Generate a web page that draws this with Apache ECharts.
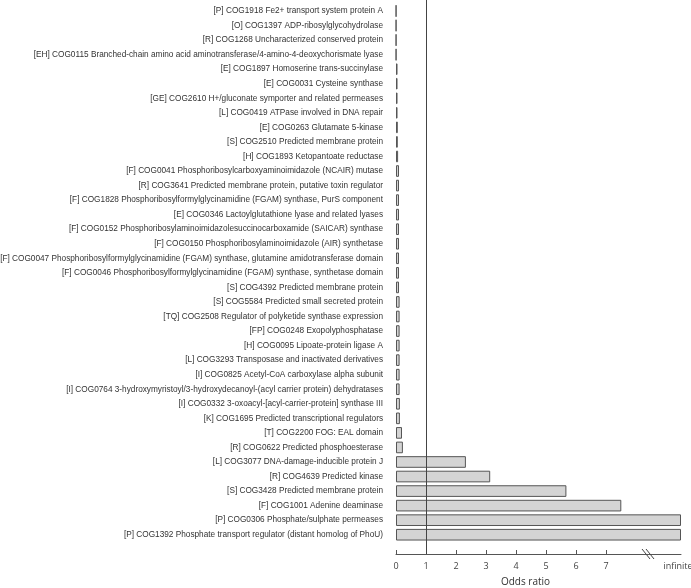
<!DOCTYPE html>
<html>
<head>
<meta charset="utf-8">
<script src="https://cdn.jsdelivr.net/npm/echarts@6/dist/echarts.min.js"></script>
<style>html,body{margin:0;padding:0;background:#fff;}#chart{width:691px;height:588px;}</style>
</head>
<body>
<div id="chart"></div>
<script>
const categories = [
  "[P] COG1918 Fe2+ transport system protein A",
  "[O] COG1397 ADP-ribosylglycohydrolase",
  "[R] COG1268 Uncharacterized conserved protein",
  "[EH] COG0115 Branched-chain amino acid aminotransferase/4-amino-4-deoxychorismate lyase",
  "[E] COG1897 Homoserine trans-succinylase",
  "[E] COG0031 Cysteine synthase",
  "[GE] COG2610 H+/gluconate symporter and related permeases",
  "[L] COG0419 ATPase involved in DNA repair",
  "[E] COG0263 Glutamate 5-kinase",
  "[S] COG2510 Predicted membrane protein",
  "[H] COG1893 Ketopantoate reductase",
  "[F] COG0041 Phosphoribosylcarboxyaminoimidazole (NCAIR) mutase",
  "[R] COG3641 Predicted membrane protein, putative toxin regulator",
  "[F] COG1828 Phosphoribosylformylglycinamidine (FGAM) synthase, PurS component",
  "[E] COG0346 Lactoylglutathione lyase and related lyases",
  "[F] COG0152 Phosphoribosylaminoimidazolesuccinocarboxamide (SAICAR) synthase",
  "[F] COG0150 Phosphoribosylaminoimidazole (AIR) synthetase",
  "[F] COG0047 Phosphoribosylformylglycinamidine (FGAM) synthase, glutamine amidotransferase domain",
  "[F] COG0046 Phosphoribosylformylglycinamidine (FGAM) synthase, synthetase domain",
  "[S] COG4392 Predicted membrane protein",
  "[S] COG5584 Predicted small secreted protein",
  "[TQ] COG2508 Regulator of polyketide synthase expression",
  "[FP] COG0248 Exopolyphosphatase",
  "[H] COG0095 Lipoate-protein ligase A",
  "[L] COG3293 Transposase and inactivated derivatives",
  "[I] COG0825 Acetyl-CoA carboxylase alpha subunit",
  "[I] COG0764 3-hydroxymyristoyl/3-hydroxydecanoyl-(acyl carrier protein) dehydratases",
  "[I] COG0332 3-oxoacyl-[acyl-carrier-protein] synthase III",
  "[K] COG1695 Predicted transcriptional regulators",
  "[T] COG2200 FOG: EAL domain",
  "[R] COG0622 Predicted phosphoesterase",
  "[L] COG3077 DNA-damage-inducible protein J",
  "[R] COG4639 Predicted kinase",
  "[S] COG3428 Predicted membrane protein",
  "[F] COG1001 Adenine deaminase",
  "[P] COG0306 Phosphate/sulphate permeases",
  "[P] COG1392 Phosphate transport regulator (distant homolog of PhoU)"
];
const oddsRatio = [
  0.005, 0.005, 0.005, 0.005,
  0.05, 0.05, 0.05, 0.05, 0.06, 0.06, 0.07,
  0.10, 0.10, 0.10, 0.10, 0.10, 0.10, 0.10, 0.10, 0.10,
  0.12, 0.12, 0.12, 0.12, 0.12, 0.12, 0.12,
  0.13, 0.13, 0.20, 0.23,
  2.33, 3.14, 5.68, 7.51,
  Infinity, Infinity
];
const xTicks = [0, 1, 2, 3, 4, 5, 6, 7];
const infinitePosition = 9.5;     // where an "infinite" odds ratio is drawn on the axis
const infiniteLabelAt = 9.4;
const axisBreakAt = 8.4;
const referenceOddsRatio = 1;
const axisMax = 9.5;

const barValues = oddsRatio.map(v => (isFinite(v) ? v : infinitePosition));

const chart = echarts.init(document.getElementById('chart'), null, {renderer: 'canvas'});
const option = {
  animation: false,
  backgroundColor: '#ffffff',
  grid: [
    {left: 396, right: 10, top: 3.7, bottom: 46, outerBoundsMode: 'none', containLabel: false},
    {left: 396, right: 10, top: 0, bottom: 34, outerBoundsMode: 'none', containLabel: false}
  ],
  xAxis: [
    {gridIndex: 0, type: 'value', min: 0, max: axisMax, show: false},
    {
      gridIndex: 1, type: 'value', min: 0, max: axisMax,
      name: 'Odds ratio', nameLocation: 'middle', nameGap: 23,
      nameTextStyle: {fontFamily: 'Open Sans', fontSize: 10, color: '#333', padding: [0, 26, 0, 0]},
      splitLine: {show: false},
      axisLine: {show: true, lineStyle: {color: '#555', width: 1}},
      axisTick: {show: true, inside: true, length: 4, customValues: xTicks, lineStyle: {color: '#555'}},
      axisLabel: {
        show: true, margin: 8, fontFamily: 'Open Sans', fontSize: 9, color: '#444',
        hideOverlap: false,
        customValues: xTicks.concat([infiniteLabelAt]),
        formatter: v => (v > 8 ? 'infinite' : String(v))
      }
    }
  ],
  yAxis: [
    {
      gridIndex: 0, type: 'category', data: categories, inverse: true,
      axisLine: {show: false}, axisTick: {show: false}, splitLine: {show: false},
      axisLabel: {interval: 0, margin: 13, fontFamily: 'Liberation Sans', fontSize: 8.25, color: '#333'}
    },
    {gridIndex: 1, type: 'value', min: 0, max: 1, show: false}
  ],
  series: [
    {
      type: 'bar', xAxisIndex: 0, yAxisIndex: 0,
      data: barValues, barWidth: '80%',
      itemStyle: {color: '#d4d4d4', borderColor: '#555', borderWidth: 1},
      silent: true
    },
    {
      type: 'custom', xAxisIndex: 1, yAxisIndex: 1, clip: false, silent: true,
      data: [[axisBreakAt, 0]],
      renderItem: function (params, api) {
        const p = api.coord([api.value(0), api.value(1)]);
        const x = p[0], y = p[1];
        const st = {stroke: '#444', lineWidth: 1};
        return {type: 'group', children: [
          {type: 'line', shape: {x1: x - 6, y1: y - 5, x2: x + 2, y2: y + 5}, style: st},
          {type: 'line', shape: {x1: x - 2, y1: y - 5, x2: x + 6, y2: y + 5}, style: st}
        ]};
      },
      markLine: {
        silent: true, symbol: 'none', label: {show: false},
        lineStyle: {color: '#444', width: 1, type: 'solid'},
        data: [{xAxis: referenceOddsRatio}]
      }
    }
  ]
};
chart.setOption(option);
</script>
</body>
</html>
